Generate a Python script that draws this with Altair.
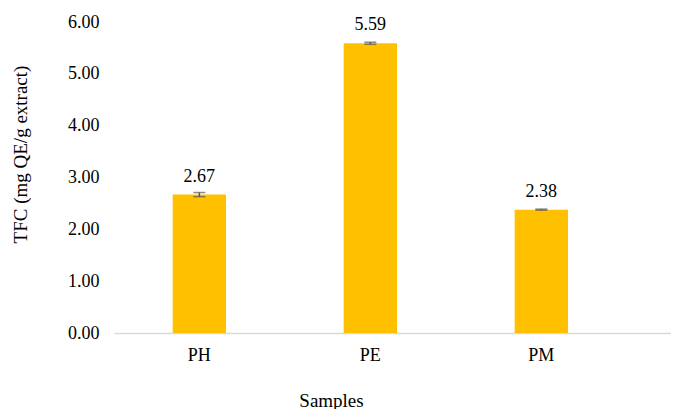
import altair as alt
import pandas as pd

samples = ["PH", "PE", "PM"]
tfc = [2.67, 5.59, 2.38]
sd = [0.04, 0.02, 0.01]

df = pd.DataFrame({"Sample": samples, "TFC": tfc, "SD": sd})
df["lo"] = df["TFC"] - df["SD"]
df["hi"] = df["TFC"] + df["SD"]
df["label"] = df["TFC"].map(lambda v: f"{v:.2f}")

FONT = "Liberation Serif"

xenc = alt.X(
    "Sample:N",
    sort=samples,
    scale=alt.Scale(paddingInner=0.688, paddingOuter=0.4727, align=0.363),
    axis=alt.Axis(
        title="Samples",
        labelAngle=0,
        ticks=False,
        tickSize=0,
        labelPadding=13,
        domainColor="#D9D9D9",
        domainWidth=1.5,
        labelFont=FONT,
        labelFontSize=18,
        labelColor="#000000",
        titleFont=FONT,
        titleFontSize=19,
        titleFontWeight="normal",
        titleColor="#000000",
        titleX=217,
        titleY=67,
        titleBaseline="middle",
        titleAlign="center",
    ),
)

yscale = alt.Scale(domain=[0, 6], nice=False)

base = alt.Chart(df)

bars = base.mark_bar(color="#FFC000").encode(
    x=xenc,
    y=alt.Y(
        "TFC:Q",
        scale=yscale,
        axis=alt.Axis(
            title="TFC (mg QE/g extract)",
            values=[0, 1, 2, 3, 4, 5, 6],
            format=".2f",
            grid=False,
            domain=False,
            ticks=False,
            tickSize=0,
            labelPadding=15,
            labelFont=FONT,
            labelFontSize=18,
            labelColor="#000000",
            titleFont=FONT,
            titleFontSize=19,
            titleFontWeight="normal",
            titleColor="#000000",
            titleX=-94,
            titleY=132,
            titleAngle=-90,
            titleAlign="center",
            titleBaseline="middle",
        ),
    ),
)

err = base.mark_rule(color="#595959", strokeWidth=1.5).encode(
    x=alt.X("Sample:N", sort=samples),
    y=alt.Y("lo:Q", scale=yscale),
    y2="hi:Q",
)

cap_lo = base.mark_tick(color="#595959", size=12, thickness=1.5).encode(
    x=alt.X("Sample:N", sort=samples),
    y=alt.Y("lo:Q", scale=yscale),
)
cap_hi = base.mark_tick(color="#595959", size=12, thickness=1.5).encode(
    x=alt.X("Sample:N", sort=samples),
    y=alt.Y("hi:Q", scale=yscale),
)

labels = base.mark_text(
    font=FONT, fontSize=18, color="#000000", baseline="alphabetic", dy=-13
).encode(
    x=alt.X("Sample:N", sort=samples),
    y=alt.Y("TFC:Q", scale=yscale),
    text="label:N",
)

chart = (
    alt.layer(bars, err, cap_lo, cap_hi, labels)
    .properties(
        width=557,
        height=311,
        autosize=alt.AutoSizeParams(type="none"),
        padding={"left": 106, "top": 14, "right": 0, "bottom": 76},
    )
    .configure_view(stroke=None)
)

chart.save("out.html", embed_options={"renderer": "svg", "actions": False})
